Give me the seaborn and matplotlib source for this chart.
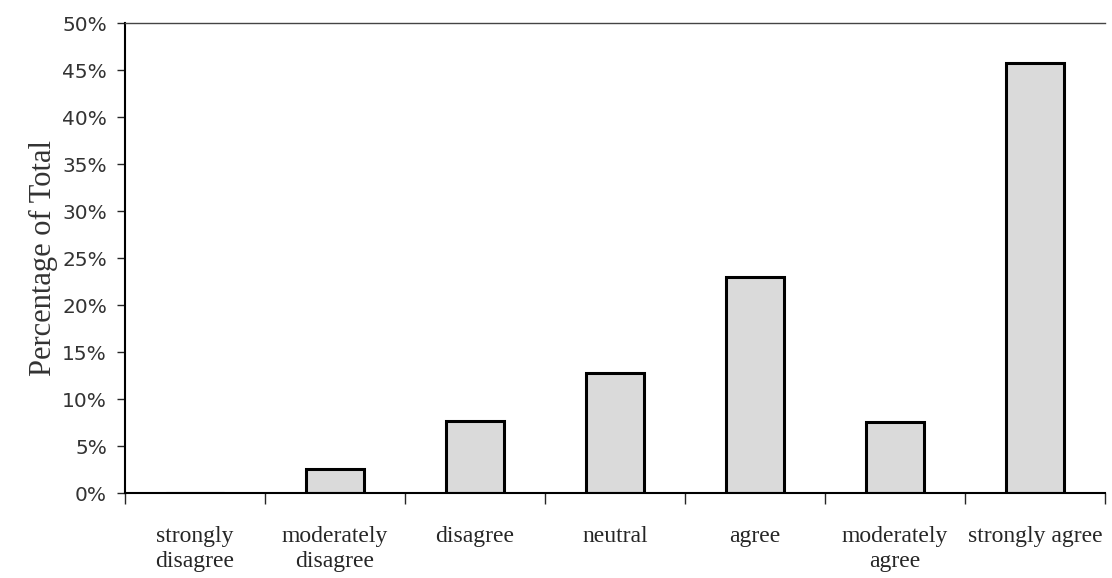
import numpy as np
import pandas as pd
import seaborn as sns
import matplotlib.pyplot as plt
from matplotlib.ticker import FixedLocator, PercentFormatter

categories = ["strongly\ndisagree", "moderately\ndisagree", "disagree", "neutral",
              "agree", "moderately\nagree", "strongly agree"]
percentages = [0.0, 2.6, 7.7, 12.8, 23.0, 7.6, 45.8]

df = pd.DataFrame({"response": categories, "pct": percentages})

sns.set_style("white")
plt.rcParams["font.family"] = ["Liberation Serif", "DejaVu Serif"]

fig = plt.figure(figsize=(11.12, 5.78), dpi=100)
ax = fig.add_axes([0.1124, 0.147, 0.8813, 0.813])

sns.barplot(data=df, x="response", y="pct", ax=ax, width=0.42,
            color="#dadada", edgecolor="black", linewidth=2.2, saturation=1)

ax.set_xlim(-0.5, 6.5)
ax.set_ylim(0, 50)
ax.set_yticks(np.arange(0, 51, 5))
ax.yaxis.set_major_formatter(PercentFormatter(decimals=0))
for lab in ax.get_yticklabels():
    lab.set_family(["DejaVu Sans"])
    lab.set_fontsize(14.5)
    lab.set_color("#333333")
ax.tick_params(axis="y", direction="out", length=6, width=1, pad=7, left=True)

# category labels centred, ticks between categories
ax.set_xticks(range(len(categories)))
ax.set_xticklabels(categories, fontsize=17, linespacing=1.2, va="top")
ax.tick_params(axis="x", which="major", length=0, pad=24)
ax.xaxis.set_minor_locator(FixedLocator(np.arange(-0.5, 6.6, 1)))
ax.tick_params(axis="x", which="minor", direction="out", length=8, width=1, bottom=True)

ax.set_xlabel("")
ax.set_ylabel("Percentage of Total", fontsize=22, labelpad=3, color="#333333")

for side in ["left", "bottom"]:
    ax.spines[side].set_color("black")
    ax.spines[side].set_linewidth(1.5)
ax.spines["top"].set_color("#444444")
ax.spines["top"].set_linewidth(1.0)
ax.spines["right"].set_visible(False)

fig.savefig("out.png", dpi=100)
